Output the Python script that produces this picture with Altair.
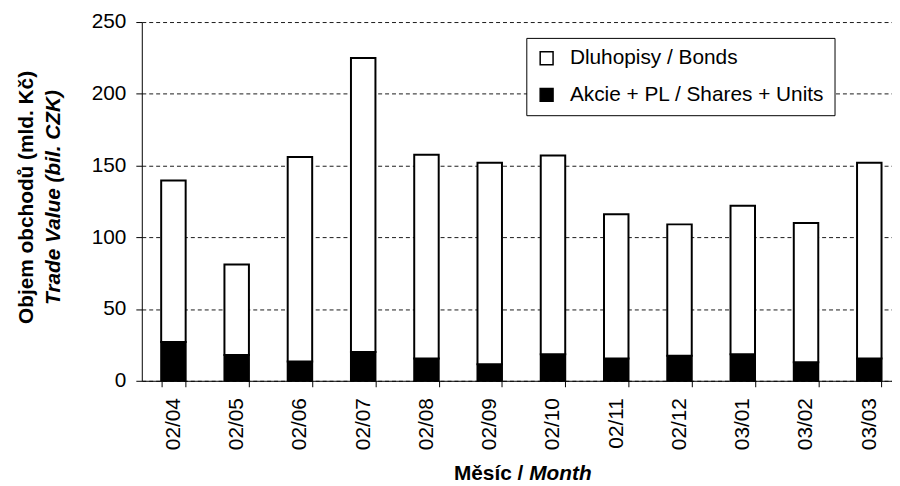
import altair as alt
import pandas as pd

# ---- data ----
months = ["02/04", "02/05", "02/06", "02/07", "02/08", "02/09",
          "02/10", "02/11", "02/12", "03/01", "03/02", "03/03"]
shares = [27, 18, 13.5, 20, 15.5, 11.5, 18.5, 15.5, 17.5, 18.5, 13, 15.5]
bonds = [112.5, 63, 142.5, 205, 142, 140.5, 138.5, 100.5, 91.5, 103.5, 97, 136.5]
series_names = ["Dluhopisy / Bonds", "Akcie + PL / Shares + Units"]
series_colors = ["white", "black"]
y_ticks = [0, 50, 100, 150, 200, 250]

y_title_cz = ["Objem obchodů (mld. Kč)"]
y_title_en = ["Trade Value (bil. CZK)"]
x_title_cz = ["Měsíc /"]
x_title_en = ["Month"]

rows = []
for m, s, b in zip(months, shares, bonds):
    rows.append({"month": m, "series": series_names[1], "value": s, "ord": 0})
    rows.append({"month": m, "series": series_names[0], "value": b, "ord": 1})
df = pd.DataFrame(rows)

FONT = "Liberation Sans"
FS = 21
W, H = 757, 362

bars = alt.Chart(df).mark_bar(stroke="black", strokeWidth=2).encode(
    x=alt.X("month:N", sort=months,
            scale=alt.Scale(range=[0, 766], paddingInner=0.613, paddingOuter=0.3065),
            axis=alt.Axis(title=None, labelAngle=-90, tickBand="extent",
                          tickSize=6, labelPadding=11, labelFontSize=FS,
                          labelFont=FONT, labelColor="black",
                          domainColor="black", tickColor="black", grid=False)),
    y=alt.Y("value:Q", stack="zero",
            scale=alt.Scale(domain=[0, 250], nice=False),
            axis=alt.Axis(title=None, values=y_ticks, tickSize=6, labelPadding=10,
                          labelFontSize=FS, labelFont=FONT, labelColor="black",
                          domainColor="black", tickColor="black",
                          grid=True, gridColor="#1a1a1a", gridDash=[4, 3], gridWidth=1)),
    color=alt.Color("series:N",
                    scale=alt.Scale(domain=series_names, range=series_colors),
                    legend=alt.Legend(title=None, orient="none", legendX=388, legendY=16,
                                      symbolType="square", symbolSize=169,
                                      symbolStrokeColor="black", symbolStrokeWidth=1.5,
                                      labelFontSize=FS, labelFont=FONT, labelColor="black",
                                      labelLimit=400, labelOffset=13, rowPadding=15,
                                      padding=10, strokeColor="black", fillColor="white",
                                      cornerRadius=0)),
    order=alt.Order("ord:Q"),
)

yt1 = alt.Chart(pd.DataFrame({"t": y_title_cz})).mark_text(
    angle=270, align="center", baseline="alphabetic", font=FONT,
    fontSize=FS, fontWeight="bold", color="black"
).encode(text="t:N", x=alt.value(-110), y=alt.value(177))

yt2 = alt.Chart(pd.DataFrame({"t": y_title_en})).mark_text(
    angle=270, align="center", baseline="alphabetic", font=FONT,
    fontSize=FS, fontWeight="bold", fontStyle="italic", color="black"
).encode(text="t:N", x=alt.value(-83), y=alt.value(177))

xt1 = alt.Chart(pd.DataFrame({"t": x_title_cz})).mark_text(
    align="right", baseline="alphabetic", font=FONT,
    fontSize=FS, fontWeight="bold", color="black"
).encode(text="t:N", x=alt.value(385), y=alt.value(462))

xt2 = alt.Chart(pd.DataFrame({"t": x_title_en})).mark_text(
    align="left", baseline="alphabetic", font=FONT,
    fontSize=FS, fontWeight="bold", fontStyle="italic", color="black"
).encode(text="t:N", x=alt.value(391), y=alt.value(462))

chart = alt.layer(bars, yt1, yt2, xt1, xt2).properties(
    width=W, height=H,
    autosize=alt.AutoSizeParams(type="none"),
    padding={"left": 135, "top": 12, "right": 0, "bottom": 106},
    background="white",
).configure_view(stroke=None)

chart.save("out.html", embed_options={"renderer": "svg", "actions": False})
